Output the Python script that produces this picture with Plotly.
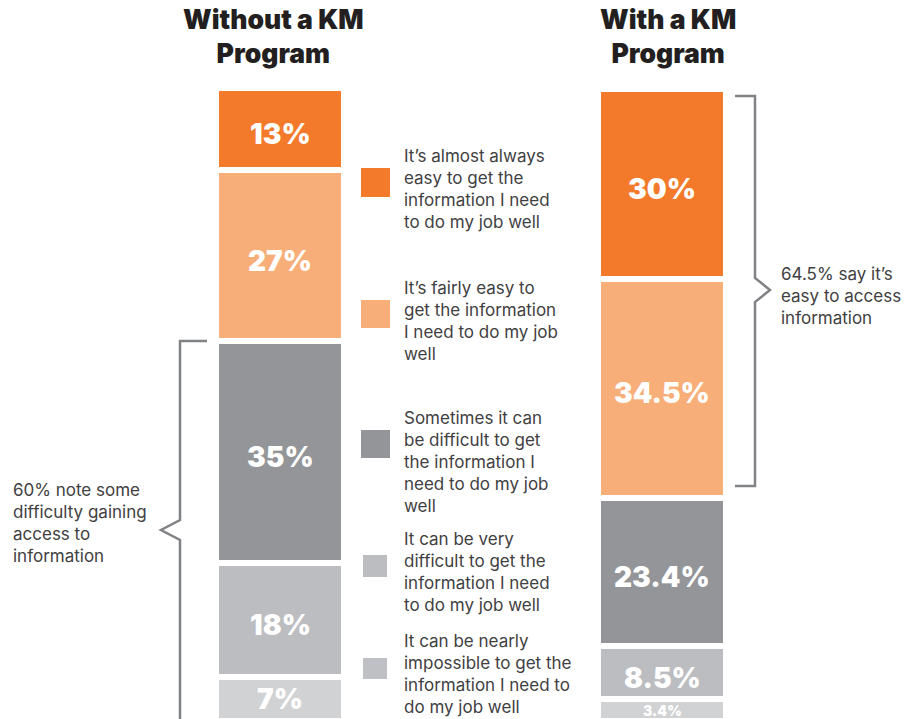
import plotly.graph_objects as go

# Share of respondents, listed from the top segment of each bar to the bottom
groups = ["Without a KM<br>Program", "With a KM<br>Program"]
without_km = [13, 27, 35, 18, 7]
with_km = [30, 34.5, 23.4, 8.5, 3.4]
responses = [
    "It\u2019s almost always<br>easy to get the<br>information I need<br>to do my job well",
    "It\u2019s fairly easy to<br>get the information<br>I need to do my job<br>well",
    "Sometimes it can<br>be difficult to get<br>the information I<br>need to do my job<br>well",
    "It can be very<br>difficult to get the<br>information I need<br>to do my job well",
    "It can be nearly<br>impossible to get the<br>information I need to<br>do my job well",
]
colors = ["#F47A2B", "#F8AE78", "#939598", "#BCBDC0", "#D1D2D4"]
swatch_colors = ["#F47A2B", "#F8AE78", "#939598", "#BCBDC0", "#BFC0C3"]
note_without = "60% note some<br>difficulty gaining<br>access to<br>information"
note_with = "64.5% say it\u2019s<br>easy to access<br>information"

W, H = 918, 719
FONT = "Inter, Roboto, Arial, sans-serif"
TEXT = "#414042"
LINE = "#808285"

# vertical scale: 100 % spans 633 px starting at y=88
TOP_PX, PX_PER_PCT = 88, 6.33
plot_px = H - TOP_PX
y_low = 100 - plot_px / PX_PER_PCT


def px(x):
    return x / W


def py(y):
    return 1 - y / H


fig = go.Figure()

# stack from the bottom segment upward
for i in reversed(range(len(without_km))):
    vals = [without_km[i], with_km[i]]
    fig.add_trace(go.Bar(
        x=[0, 1],
        y=vals,
        width=0.335,
        marker=dict(color=colors[i], line=dict(color="white", width=6)),
        hoverinfo="skip",
        showlegend=False,
    ))

annotations = []
# value labels centred in each segment (large ones sit slightly low)
for gx, series in enumerate([without_km, with_km]):
    top = sum(series)
    for v in series:
        mid = top - v / 2
        top -= v
        small = v < 5
        annotations.append(dict(
            x=gx, y=mid, xref="x", yref="y", text=f"{v:g}%", showarrow=False,
            xanchor="center", yanchor="middle", yshift=-5 if v >= 8 else 0,
            font=dict(family=FONT, color="white", weight=900,
                      size=14 if small else 28)))

shapes = []
# legend swatches
swatch_boxes = [(361, 168, 390, 197), (361, 300, 390, 328), (361, 430, 390, 458),
                (363, 555, 387, 577), (363, 658, 387, 679)]
for (x0, y0, x1, y1), c in zip(swatch_boxes, swatch_colors):
    shapes.append(dict(type="rect", xref="paper", yref="paper",
                       x0=px(x0), x1=px(x1), y0=py(y0), y1=py(y1),
                       fillcolor=c, line=dict(width=0), layer="above"))


def bracket(pts):
    d = "M " + " L ".join(f"{px(x):.5f},{py(y):.5f}" for x, y in pts)
    return dict(type="path", xref="paper", yref="paper", path=d,
                line=dict(color=LINE, width=2.5))


# bracket around the difficult responses (left bar)
shapes.append(bracket([(207, 341), (180, 341), (180, 520), (161, 530),
                       (180, 540), (180, 722)]))
# bracket around the easy responses (right bar)
shapes.append(bracket([(735, 96), (755, 96), (755, 278), (770, 290),
                       (755, 302), (755, 486), (735, 486)]))

# group titles
for cx, g in zip([273, 668], groups):
    annotations.append(dict(xref="paper", yref="paper", x=px(cx), y=py(36),
                            xanchor="center", yanchor="middle", text=g,
                            showarrow=False, align="center",
                            font=dict(family=FONT, size=26.5, color="#231F20", weight=900)))

# legend texts
legend_centers = [189, 321, 461.5, 572, 674]
for yc, t in zip(legend_centers, responses):
    annotations.append(dict(xref="paper", yref="paper", x=px(402), y=py(yc),
                            xanchor="left", yanchor="middle", text=t,
                            showarrow=False, align="left",
                            font=dict(family=FONT, size=17, color=TEXT)))

annotations.append(dict(xref="paper", yref="paper", x=px(11), y=py(522.5),
                        xanchor="left", yanchor="middle", text=note_without,
                        showarrow=False, align="left",
                        font=dict(family=FONT, size=17, color=TEXT)))
annotations.append(dict(xref="paper", yref="paper", x=px(779), y=py(295.5),
                        xanchor="left", yanchor="middle", text=note_with,
                        showarrow=False, align="left",
                        font=dict(family=FONT, size=17, color=TEXT)))

fig.update_layout(
    width=W, height=H,
    margin=dict(l=0, r=0, t=0, b=0),
    barmode="stack",
    bargap=0,
    plot_bgcolor="white",
    paper_bgcolor="white",
    xaxis=dict(range=[-280 / 382, -280 / 382 + W / 382], visible=False,
               fixedrange=True),
    yaxis=dict(range=[y_low, 100], domain=[0, plot_px / H], visible=False,
               fixedrange=True),
    shapes=shapes,
    annotations=annotations,
    font=dict(family=FONT),
)

fig.write_html("out.html")
